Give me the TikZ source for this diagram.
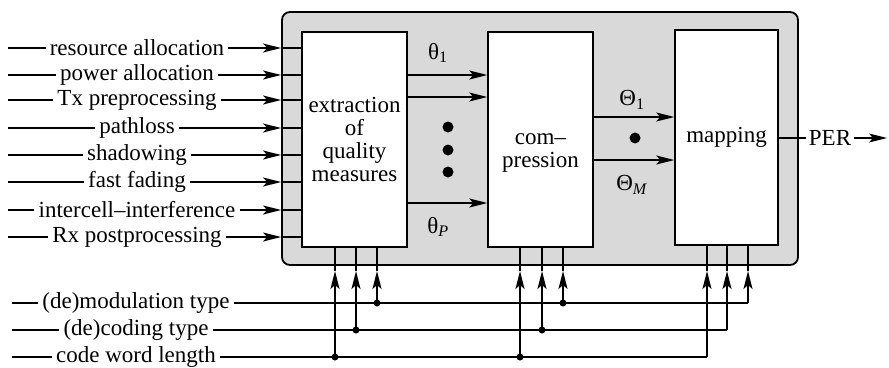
\documentclass[tikz,border=0pt]{standalone}
\usepackage{fontspec}
\setmainfont{Liberation Serif}
\usetikzlibrary{arrows.meta}
\begin{document}
\begin{tikzpicture}[x=1pt,y=-1pt,
  every node/.style={font=\fontsize{23}{23}\selectfont},
  lw/.style={line width=1.5pt},
  arr/.style={lw,-{Stealth[length=18pt,width=9pt,inset=4pt]}},
  frame/.style={draw,line width=1.8pt,rounded corners=8pt,fill=black!15,minimum width=516pt,minimum height=253pt,inner sep=0pt},
  blk/.style={draw,lw,fill=white,minimum width=105pt,minimum height=215pt,inner sep=0pt,align=center},
  lab/.style={inner xsep=4pt,inner ysep=0pt,anchor=center},
  sym/.style={inner sep=0pt},
  dot/.style={circle,fill,inner sep=0pt,minimum size=#1}
]
\useasboundingbox (0,0) rectangle (889,367);
\node[frame] (frame) at (540,138.5) {};
\node[blk] (b1) at (354.5,139.5) {};
\node[blk] (b2) at (540.5,139.5) {};
\node[blk,minimum width=103pt] (b3) at (726.5,137.5) {};
\node[align=center,inner sep=0pt] (t1) at (b1.center) {extraction\\of\\quality\\measures};
\node[align=center,inner sep=0pt] (t2) at (540.5,153) {com--\\pression};
\node[inner sep=0pt] (t3) at (b3.center) {mapping};
% inputs
\foreach \i/\y/\t in {1/48/resource allocation,2/75/power allocation,3/100/Tx preprocessing,4/128/pathloss,5/155/shadowing,6/182/fast fading,7/210/intercell--interference,8/237/Rx postprocessing}{
  \node[lab] (in\i) at (137,\y) {\t};
  \coordinate (s\i) at (8,\y);
  \coordinate (e\i) at (frame.west |- in\i);
  \draw[lw] (s\i) -- (in\i.west);
  \draw[arr] (in\i.east) -- (e\i);
  \draw[lw] (e\i) -- (b1.west |- in\i);
}
% thetas
\coordinate (p1) at (0,75);
\coordinate (p2) at (0,97);
\coordinate (p3) at (0,203);
\draw[arr] (b1.east |- p1) -- (b2.west |- p1);
\draw[arr] (b1.east |- p2) -- (b2.west |- p2);
\draw[arr] (b1.east |- p3) -- (b2.west |- p3);
\node[sym] (th1) at (438,53) {θ\textsubscript{1}};
\node[sym] (thp) at (438,227) {θ\textsubscript{\textit{P}}};
\node[dot=11pt] (d1) at (448,127) {};
\node[dot=11pt] (d2) at (448,150) {};
\node[dot=11pt] (d3) at (448,172) {};
\coordinate (q1) at (0,117);
\coordinate (q2) at (0,160);
\draw[arr] (b2.east |- q1) -- (b3.west |- q1);
\draw[arr] (b2.east |- q2) -- (b3.west |- q2);
\node[sym] (T1) at (632,100) {Θ\textsubscript{1}};
\node[sym] (TM) at (632,185) {Θ\textsubscript{\textit{M}}};
\node[dot=11pt] (d4) at (635,138) {};
% output
\node[lab,inner xsep=3pt] (per) at (830,138) {PER};
\coordinate (pend) at (887,138);
\draw[lw] (b3.east |- per) -- (per.west);
\draw[arr] (per.east) -- (pend);
% bottom parameters
\foreach \k/\y/\t/\xa/\xb/\xc/\xs in {m/303/(de)modulation type/377/563/748/12, c/330/(de)coding type/356/542/727/12, w/357/code word length/335/520/707/12}{
  \node[lab] (\k) at (136,\y) {\t};
  \coordinate (\k s) at (\xs,\y);
  \coordinate (\k a) at (\xa,\y);
  \coordinate (\k b) at (\xb,\y);
  \coordinate (\k c) at (\xc,\y);
  \coordinate (\k ta) at (\xa,271);
  \coordinate (\k tb) at (\xb,271);
  \coordinate (\k tc) at (\xc,271);
  \draw[lw] (\k s) -- (\k.west);
  \draw[lw] (\k.east) -- (\k c);
  \draw[arr] (\k a) -- (\k ta);
  \draw[arr] (\k b) -- (\k tb);
  \draw[arr] (\k c) -- (\k tc);
  \draw[lw] (\k ta) -- (b1.south -| \k ta);
  \draw[lw] (\k tb) -- (b2.south -| \k tb);
  \draw[lw] (\k tc) -- (b3.south -| \k tc);
  \node[dot=7pt] at (\k a) {};
  \node[dot=7pt] at (\k b) {};
}
\end{tikzpicture}
\end{document}
